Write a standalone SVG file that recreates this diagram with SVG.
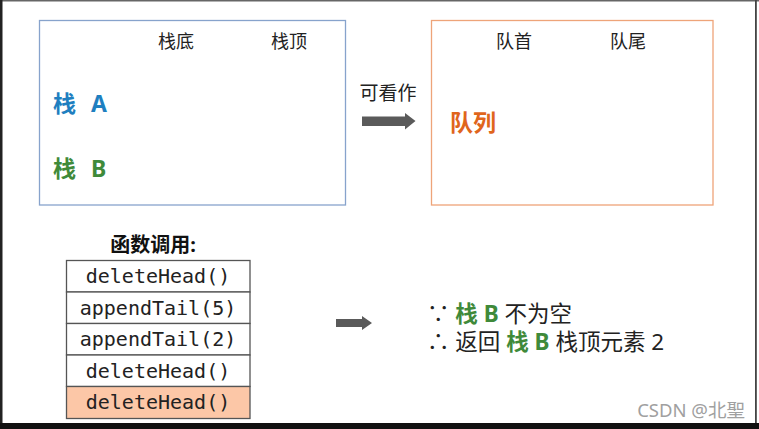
<svg xmlns="http://www.w3.org/2000/svg" width="759" height="429" viewBox="0 0 759 429">
<style>
text{font-family:"Noto Sans","Noto Sans CJK SC",sans-serif}
.lbl{font-size:18px;fill:#222}
.big{font-size:23px;font-weight:bold}
.mono{font-family:"DejaVu Sans Mono",monospace;font-size:20px;fill:#222}
.cell{stroke:#555;stroke-width:1.3}
.txt{font-size:22.5px;fill:#222}
.g{fill:#3f8a3a;font-weight:bold}
</style>
<rect x="0" y="0" width="759" height="429" fill="#fff"/>
<g id="frame">
<rect x="0" y="0" width="759" height="1.5" fill="#666"/>
<rect x="0" y="0" width="2.5" height="429" fill="#222"/>
<rect x="755" y="0" width="1.8" height="424" fill="#444"/>
<rect x="0" y="423" width="759" height="6" fill="#111"/>
</g>
<g id="stack-box">
<rect x="39.5" y="20.5" width="306" height="184.5" fill="#fff" stroke="#87a3cc" stroke-width="1.3"/>
<text class="lbl" x="176" y="48" text-anchor="middle">栈底</text>
<text class="lbl" x="289" y="48" text-anchor="middle">栈顶</text>
<text class="big" x="53" y="112" fill="#1f7fc0">栈<tspan x="91">A</tspan></text>
<text class="big" x="53" y="177" fill="#3f8a3a">栈<tspan x="91">B</tspan></text>
</g>
<g id="queue-box">
<rect x="431.5" y="20.5" width="281.5" height="184.5" fill="#fff" stroke="#eea479" stroke-width="1.3"/>
<text class="lbl" x="514" y="48" text-anchor="middle">队首</text>
<text class="lbl" x="628" y="48" text-anchor="middle">队尾</text>
<text class="big" x="450" y="131" fill="#e0651c">队列</text>
</g>
<g id="connectors">
<text x="388" y="100" text-anchor="middle" style="font-size:19px;fill:#222">可看作</text>
<polygon points="362,116.5 405,116.5 405,113 415.5,121 405,129.5 405,126 362,126" fill="#5a5a5a"/>
<polygon points="336,319 362,319 362,316 372,323 362,330 362,327 336,327" fill="#5a5a5a"/>
</g>
<g id="calls">
<text x="153" y="252" text-anchor="middle" style="font-size:20px;font-weight:bold;fill:#111">函数调用:</text>
<rect class="cell" x="66.5" y="260.5" width="183.5" height="31.5" fill="#fff"/>
<rect class="cell" x="66.5" y="292" width="183.5" height="31.5" fill="#fff"/>
<rect class="cell" x="66.5" y="323.5" width="183.5" height="31.5" fill="#fff"/>
<rect class="cell" x="66.5" y="355" width="183.5" height="31.5" fill="#fff"/>
<rect class="cell" x="66.5" y="386.5" width="183.5" height="32" fill="#fcc7a7"/>
<text class="mono" x="158" y="283" text-anchor="middle">deleteHead()</text>
<text class="mono" x="158" y="314.5" text-anchor="middle">appendTail(5)</text>
<text class="mono" x="158" y="346" text-anchor="middle">appendTail(2)</text>
<text class="mono" x="158" y="377.5" text-anchor="middle">deleteHead()</text>
<text class="mono" x="158" y="409" text-anchor="middle">deleteHead()</text>
</g>
<g id="result">
<text class="txt" x="427" y="322">∵ <tspan class="g">栈 B</tspan> 不为空</text>
<text class="txt" x="427" y="350">∴ 返回 <tspan class="g">栈 B</tspan> 栈顶元素 2</text>
</g>
<text x="745" y="417" text-anchor="end" style="font-size:18.5px;fill:#a0a0a0">CSDN @北聖</text>
</svg>
